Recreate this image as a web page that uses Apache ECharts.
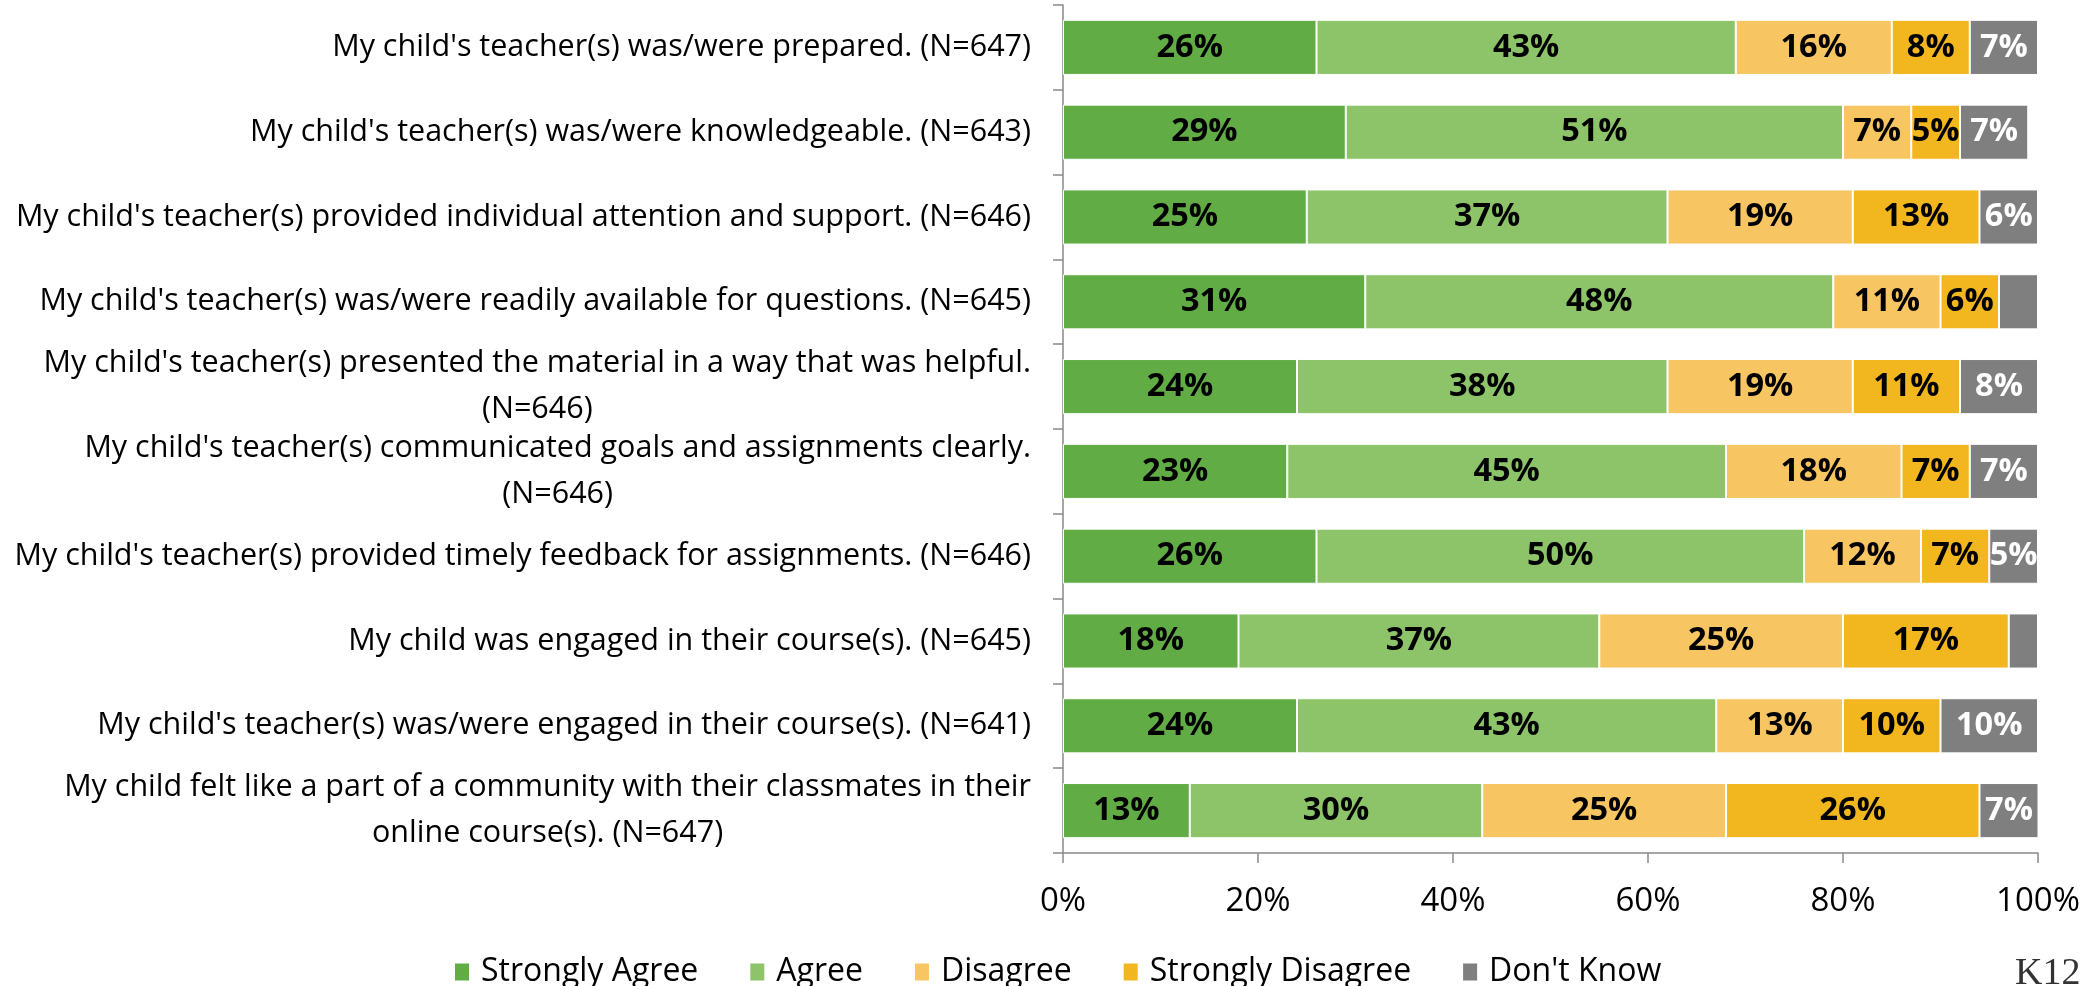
<!DOCTYPE html>
<html>
<head>
<meta charset="utf-8">
<script src="https://cdn.jsdelivr.net/npm/echarts@6/dist/echarts.min.js"></script>
<style>html,body{margin:0;padding:0;background:#fff;}#c{width:2097px;height:986px;}</style>
</head>
<body>
<div id="c"></div>
<script>
const categories = [
  "My child's teacher(s) was/were prepared. (N=647)",
  "My child's teacher(s) was/were knowledgeable. (N=643)",
  "My child's teacher(s) provided individual attention and support. (N=646)",
  "My child's teacher(s) was/were readily available for questions. (N=645)",
  "My child's teacher(s) presented the material in a way that was helpful.\n(N=646)",
  "My child's teacher(s) communicated goals and assignments clearly.\n(N=646)",
  "My child's teacher(s) provided timely feedback for assignments. (N=646)",
  "My child was engaged in their course(s). (N=645)",
  "My child's teacher(s) was/were engaged in their course(s). (N=641)",
  "My child felt like a part of a community with their classmates in their\nonline course(s). (N=647)"
];
const seriesNames = ["Strongly Agree", "Agree", "Disagree", "Strongly Disagree", "Don't Know"];
const stronglyAgree    = [26, 29, 25, 31, 24, 23, 26, 18, 24, 13];
const agree            = [43, 51, 37, 48, 38, 45, 50, 37, 43, 30];
const disagree         = [16, 7, 19, 11, 19, 18, 12, 25, 13, 25];
const stronglyDisagree = [8, 5, 13, 6, 11, 7, 7, 17, 10, 26];
const dontKnow         = [7, 7, 6, 4, 8, 7, 5, 3, 10, 7];
const dontKnowLabelShown = [true, true, true, false, true, true, true, false, true, true];
const xTicks = [0, 20, 40, 60, 80, 100];

const colors = ["#62ac46", "#8dc46a", "#f7c562", "#f2b61e", "#7f7f7f"];
const labelColors = ["#000", "#000", "#000", "#000", "#fff"];
const values = [stronglyAgree, agree, disagree, stronglyDisagree, dontKnow];

const FONT = "'Open Sans', sans-serif";

const series = seriesNames.map((name, si) => ({
  name: name,
  type: 'bar',
  stack: 'total',
  barWidth: '65%',
  itemStyle: { color: colors[si], borderColor: '#fff', borderWidth: 1 },
  label: {
    show: true,
    position: 'inside',
    color: labelColors[si],
    fontFamily: FONT,
    fontWeight: 'bold',
    fontSize: 32.5,
    formatter: p => p.value + '%'
  },
  data: values[si].map((v, i) => (si === 4 && !dontKnowLabelShown[i]) ? { value: v, label: { show: false } } : v)
}));

const chart = echarts.init(document.getElementById('c'), null, { renderer: 'canvas' });
chart.setOption({
  animation: false,
  backgroundColor: '#fff',
  grid: { left: 1063, right: 59, top: 5, bottom: 133 },
  xAxis: {
    type: 'value',
    min: xTicks[0],
    max: xTicks[xTicks.length - 1],
    interval: xTicks[1] - xTicks[0],
    axisLine: { show: true, lineStyle: { color: '#898989', width: 1.5 } },
    axisTick: { show: true, length: 10, lineStyle: { color: '#898989', width: 1.5 } },
    splitLine: { show: false },
    axisLabel: { color: '#000', fontFamily: FONT, fontSize: 33, margin: 32, formatter: '{value}%' }
  },
  yAxis: {
    type: 'category',
    inverse: true,
    data: categories,
    axisLine: { show: true, lineStyle: { color: '#898989', width: 1.5 } },
    axisTick: { show: true, length: 10, lineStyle: { color: '#898989', width: 1.5 } },
    axisLabel: {
      color: '#000',
      fontFamily: FONT,
      fontSize: 30.5,
      lineHeight: 46,
      margin: 32,
      formatter: v => v.split('\n').map(s => '{c|' + s + '}').join('\n'),
      rich: { c: { align: 'center', color: '#000', fontFamily: FONT, fontSize: 30.5, lineHeight: 46 } }
    }
  },
  legend: {
    data: seriesNames,
    left: 448,
    top: 951,
    icon: 'rect',
    itemWidth: 16,
    itemHeight: 19,
    itemGap: 50,
    textStyle: { color: '#000', fontFamily: FONT, fontSize: 32, padding: [0, 0, 0, 6] }
  },
  graphic: [{
    type: 'text',
    left: 2015,
    top: 955,
    style: { text: 'K12', fill: '#333', font: "38px 'Liberation Serif', serif" }
  }],
  series: series
});
</script>
</body>
</html>
